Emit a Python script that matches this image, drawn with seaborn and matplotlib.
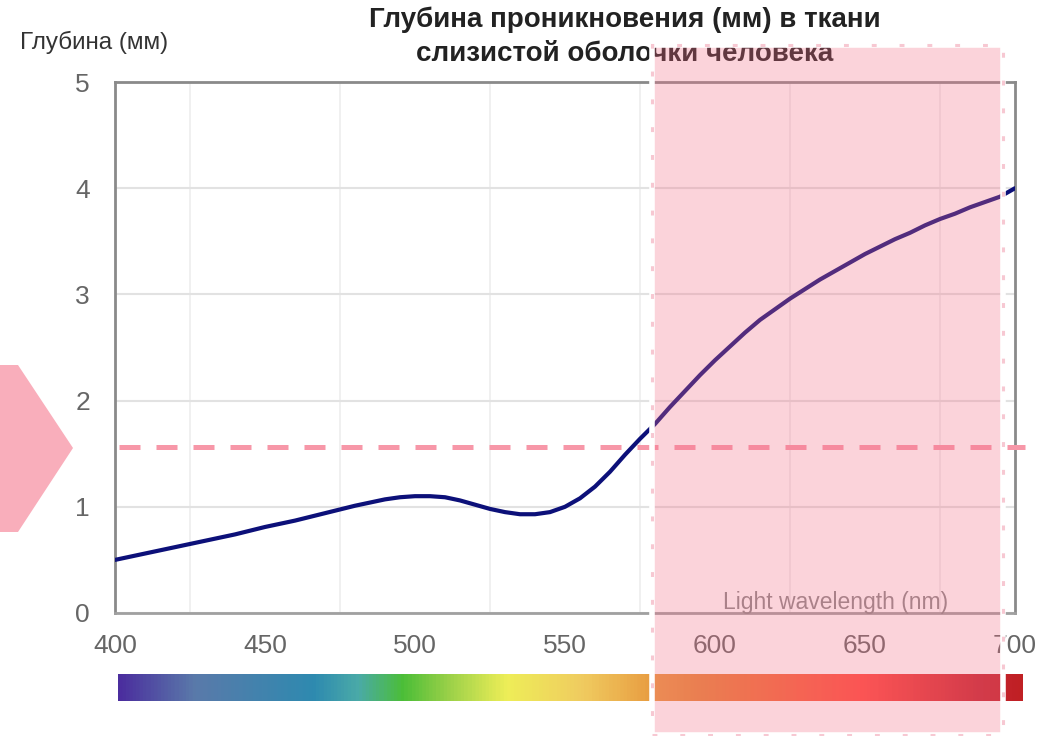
import numpy as np
import pandas as pd
import matplotlib
matplotlib.use("Agg")
import matplotlib.pyplot as plt
import seaborn as sns
from matplotlib.colors import LinearSegmentedColormap
from matplotlib.patches import Rectangle, Polygon
from matplotlib.ticker import MultipleLocator

# Penetration depth of light into human mucosa, by wavelength
wavelength_nm = [400, 410, 420, 430, 440, 450, 460, 470, 480, 485, 490, 495,
                 500, 505, 510, 515, 520, 525, 530, 535, 540, 545, 550, 555,
                 560, 565, 570, 575, 580, 585, 590, 595, 600, 605, 610, 615,
                 620, 625, 630, 635, 640, 645, 650, 655, 660, 665, 670, 675,
                 680, 685, 690, 695, 700]
depth_mm = [0.50, 0.56, 0.62, 0.68, 0.74, 0.81, 0.87, 0.94, 1.01, 1.04, 1.07, 1.09,
            1.10, 1.10, 1.09, 1.06, 1.02, 0.98, 0.95, 0.93, 0.93, 0.95, 1.00, 1.08,
            1.19, 1.33, 1.49, 1.64, 1.78, 1.94, 2.09, 2.24, 2.38, 2.51, 2.64, 2.76,
            2.86, 2.96, 3.05, 3.14, 3.22, 3.30, 3.38, 3.45, 3.52, 3.58, 3.65, 3.71,
            3.76, 3.82, 3.87, 3.92, 4.00]
threshold_mm = 1.56
x_ticks = [400, 450, 500, 550, 600, 650, 700]
y_ticks = [0, 1, 2, 3, 4, 5]
highlight_nm = (580, 695)

title = "Глубина проникновения (мм) в ткани\nслизистой оболочки человека"
y_title = "Глубина (мм)"
x_title = "Light wavelength (nm)"

sns.set_theme(style="white")
plt.rcParams["font.family"] = ["Liberation Sans", "DejaVu Sans"]

W, H = 1062, 736
fig = plt.figure(figsize=(W / 100, H / 100), dpi=100)
ax = fig.add_axes([115 / W, 1 - 613 / H, 900 / W, 531 / H])

df = pd.DataFrame({"wavelength": wavelength_nm, "depth": depth_mm})
sns.lineplot(data=df, x="wavelength", y="depth", ax=ax, color="#0C1079",
             linewidth=3.0, zorder=5)

ax.set_xlim(400, 700)
ax.set_ylim(0, 5)
ax.set_xticks(x_ticks)
ax.set_yticks(y_ticks)
ax.xaxis.set_minor_locator(MultipleLocator(25))
ax.set_xlabel("")
ax.set_ylabel("")

ax.grid(False)
ax.grid(which="minor", axis="x", color="#EEEEEE", linewidth=1.2, zorder=0)
ax.grid(which="major", axis="y", color="#E2E2E2", linewidth=1.5, zorder=0)
ax.tick_params(axis="x", which="major", direction="in", length=5, width=1,
               color="#C4C4C4", pad=15, labelsize=19, labelcolor="#666666")
ax.tick_params(axis="x", which="minor", length=0)
ax.tick_params(axis="y", length=0, pad=18, labelsize=19, labelcolor="#666666")

for side in ["left", "right", "top", "bottom"]:
    ax.spines[side].set_visible(True)
    ax.spines[side].set_color("#8A8A8A")
    ax.spines[side].set_linewidth(2.0)
ax.spines["bottom"].set_color("#A0A0A0")

# threshold depth as a dashed pink line
ax.axhline(threshold_mm, xmin=0.004, xmax=1.011, color="#F797A8",
           linewidth=3.6, linestyle=(0, (4.2, 3.2)), clip_on=False, zorder=4)

ax.text(0.801, 0.019, x_title, transform=ax.transAxes, ha="center",
        va="center", fontsize=16.5, color="#8A8A8A")

# visible spectrum bar
spectrum = LinearSegmentedColormap.from_list("spectrum", [
    (0.000, "#4B2E9E"), (0.083, "#5A7AAA"), (0.215, "#2E8AB0"),
    (0.264, "#4AAAA8"), (0.314, "#4CBE38"), (0.363, "#98D048"),
    (0.429, "#EEEE58"), (0.512, "#F0CC60"), (0.594, "#E89A40"),
    (0.644, "#E6863A"), (0.825, "#FF4A40"), (0.957, "#C42530"),
    (1.000, "#C02024")])
bar_ax = fig.add_axes([118 / W, 1 - 701 / H, 905 / W, 27 / H])
bar_ax.imshow(np.linspace(0, 1, 800)[None, :], cmap=spectrum, aspect="auto",
              extent=(401, 703, 0, 1))
bar_ax.set_axis_off()

fig.text(625 / W, 1 - 37 / H, title, ha="center", va="center", fontsize=20,
         fontweight="bold", color="#222222", linespacing=1.38)
fig.text(20 / W, 1 - 42 / H, y_title, ha="left", va="center", fontsize=17.5,
         color="#333333")

# pointer on the left edge, level with the threshold
def px(x, y):
    return (x / W, 1 - y / H)

fig.patches.append(Polygon([px(0, 365), px(18, 365), px(73, 448), px(18, 532),
                            px(0, 532)], closed=True, transform=fig.transFigure,
                           facecolor="#F9AEBB", edgecolor="none", zorder=1))

# highlighted red band
x0 = ax.transData.transform((highlight_nm[0], 0))[0]
x1 = ax.transData.transform((highlight_nm[1], 0))[0]
fig_w = fig.bbox.width
band = Rectangle(((x0 - 3) / fig_w, 1 / H), (x1 - x0 + 6) / fig_w, 690 / H,
                 transform=fig.transFigure,
                 facecolor=(245 / 255, 110 / 255, 135 / 255, 0.3),
                 edgecolor="white", linewidth=4.0, zorder=10)
band_edge = Rectangle(((x0 - 3) / fig_w, 1 / H), (x1 - x0 + 6) / fig_w, 690 / H,
                      transform=fig.transFigure, fill=False, edgecolor="#F7C8D2",
                      linewidth=2.2, linestyle=(0, (1.6, 7.5)), zorder=11)
fig.patches.extend([band, band_edge])

fig.savefig("out.png", dpi=100)
